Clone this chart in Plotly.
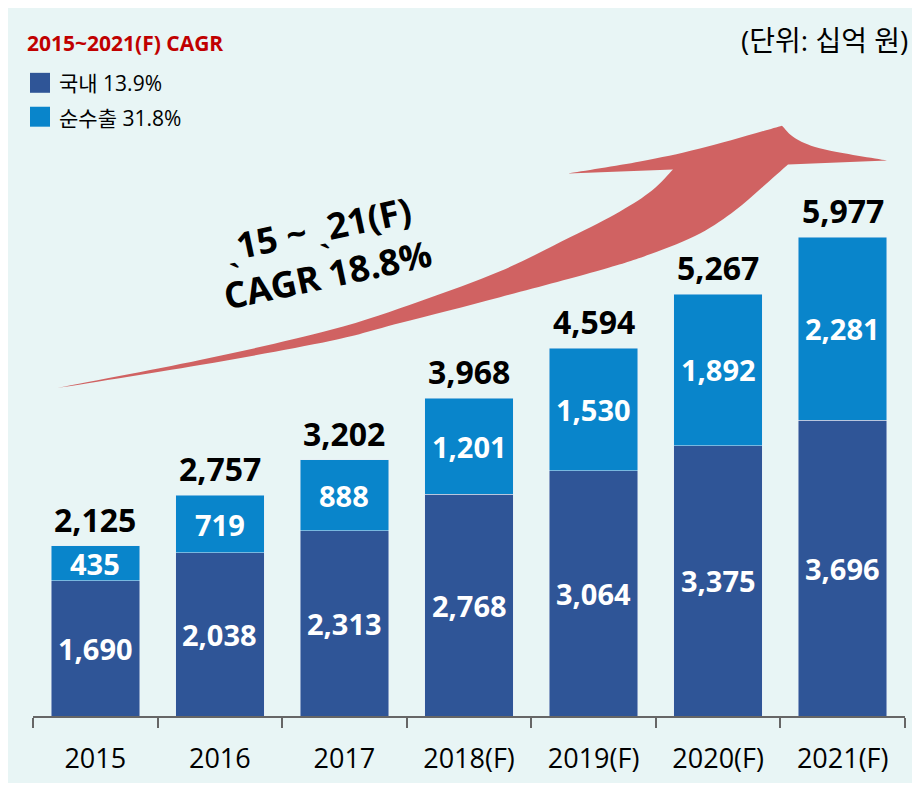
import plotly.graph_objects as go

# ---- data ----
years = ["2015", "2016", "2017", "2018(F)", "2019(F)", "2020(F)", "2021(F)"]
domestic = [1690, 2038, 2313, 2768, 3064, 3375, 3696]
net_export = [435, 719, 888, 1201, 1530, 1892, 2281]
totals = [2125, 2757, 3202, 3968, 4594, 5267, 5977]
series_names = ["국내 13.9%", "순수출 31.8%"]

W, H = 904, 775
OFF = 8  # page body margin
ML, MR, MT, MB = 25, 7, 10, 65
PW, PH = W - ML - MR, H - MT - MB
Y0 = H - MB  # figure pixel y of axis


def px(x, y):
    """screenshot pixel -> paper fraction"""
    fx, fy = x - OFF, y - OFF
    return (fx - ML) / PW, (Y0 - fy) / PH


C_DOM = "#2F5597"
C_EXP = "#0985CB"
C_ARROW = "#D06262"
FONT = "Open Sans, Noto Sans CJK KR"

fig = go.Figure()
fig.add_trace(go.Bar(x=years, y=domestic, name=series_names[0], marker_color=C_DOM,
                     hoverinfo="x+y"))
fig.add_trace(go.Bar(x=years, y=net_export, name=series_names[1], marker_color=C_EXP,
                     hoverinfo="x+y"))

ann = []
for i, yr in enumerate(years):
    ann.append(dict(x=i, y=domestic[i] / 2, text=f"{domestic[i]:,}", showarrow=False,
                    font=dict(family=FONT, size=29, color="white", weight="bold")))
    ann.append(dict(x=i, y=domestic[i] + net_export[i] / 2, text=f"{net_export[i]:,}",
                    showarrow=False,
                    font=dict(family=FONT, size=29, color="white", weight="bold")))
    ann.append(dict(x=i, y=totals[i], text=f"{totals[i]:,}", showarrow=False,
                    yanchor="bottom", yshift=3,
                    font=dict(family=FONT, size=32, color="black", weight="bold")))


def pann(x, y, text, size, color="black", bold=False, xanchor="left", angle=0):
    xx, yy = px(x, y)
    ann.append(dict(xref="paper", yref="paper", x=xx, y=yy, text=text, showarrow=False,
                    xanchor=xanchor, yanchor="middle", textangle=angle,
                    font=dict(family=FONT, size=size, color=color,
                              weight="bold" if bold else "normal")))


pann(25, 43, "2015~2021(F) CAGR", 21, color="#C00000", bold=True)
pann(57, 83, series_names[0], 21)
pann(57, 118, series_names[1], 21)
pann(910, 40, "(단위: 십억 원)", 28, xanchor="right")
pann(322, 253, "ˎ15 ~ ˎ21(F)<br>CAGR 18.8%", 36, bold=True, xanchor="center", angle=-12)

shapes = []
for (yy, col) in [(83, C_DOM), (117, C_EXP)]:
    a, b = px(30, yy - 10)
    c, d = px(50, yy + 10)
    shapes.append(dict(type="rect", xref="paper", yref="paper", x0=a, y0=d, x1=c, y1=b,
                       fillcolor=col, line=dict(width=0)))


def smooth(pts):
    """Catmull-Rom -> cubic bezier segments (continuing an open path)."""
    out = ""
    n = len(pts)
    for k in range(n - 1):
        p0 = pts[k - 1] if k > 0 else pts[k]
        p1, p2 = pts[k], pts[k + 1]
        p3 = pts[k + 2] if k + 2 < n else pts[k + 1]
        c1 = (p1[0] + (p2[0] - p0[0]) / 6, p1[1] + (p2[1] - p0[1]) / 6)
        c2 = (p2[0] - (p3[0] - p1[0]) / 6, p2[1] - (p3[1] - p1[1]) / 6)
        q = [px(*c1), px(*c2), px(*p2)]
        out += "C" + " ".join(f"{a:.5f},{b:.5f}" for a, b in q) + " "
    return out


def lto(p):
    a, b = px(*p)
    return f"L{a:.5f},{b:.5f} "


upper = [(52, 390), (200, 361), (330, 331), (420, 302), (500, 272), (570, 238),
         (620, 212), (652, 191), (673, 170)]
strip = [(568, 174), (640, 162), (700, 149), (782, 126)]
barb = [(782, 126), (796, 139), (825, 150), (887, 161)]
lower = [(788, 165), (762, 188), (735, 211), (700, 234), (650, 255), (600, 271),
         (500, 298), (400, 324), (330, 342), (200, 366), (52, 390)]

s = px(*upper[0])
path = f"M{s[0]:.5f},{s[1]:.5f} " + smooth(upper)
path += lto(strip[0]) + smooth(strip)
path += smooth(barb)
path += lto(lower[0]) + smooth(lower) + "Z"
shapes.append(dict(type="path", xref="paper", yref="paper", path=path,
                   fillcolor=C_ARROW, line=dict(width=0), layer="below"))

fig.update_layout(
    width=W, height=H,
    margin=dict(l=ML, r=MR, t=MT, b=MB),
    barmode="stack", bargap=0.29,
    paper_bgcolor="#E8F5F5", plot_bgcolor="rgba(0,0,0,0)",
    showlegend=False,
    annotations=ann, shapes=shapes,
    font=dict(family=FONT),
)
fig.update_xaxes(type="category", range=[-0.5, 6.5], showline=True, linecolor="#666666",
                 linewidth=1.5, ticks="outside", tickson="boundaries", ticklen=10,
                 tickcolor="#666666", tickwidth=1.5, showgrid=False,
                 ticklabelstandoff=18,
                 tickfont=dict(family=FONT, size=27, color="black"))
fig.update_yaxes(range=[0, totals[-1] * PH / 480], visible=False, showgrid=False)

fig.write_html("out.html")
